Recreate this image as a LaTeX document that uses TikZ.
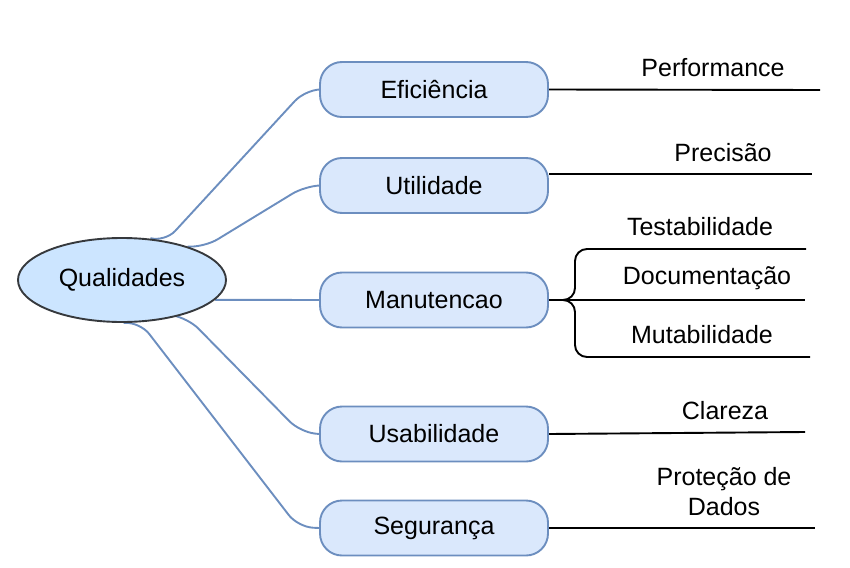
\documentclass[tikz,border=0pt]{standalone}
\usepackage{fontspec}
\setmainfont{Liberation Sans}
\usetikzlibrary{shapes.geometric,calc,backgrounds}
\definecolor{raizfill}{HTML}{CCE5FF}
\definecolor{raizline}{HTML}{36393D}
\definecolor{ramofill}{HTML}{DAE8FC}
\definecolor{ramoline}{HTML}{6C8EBF}
\tikzset{
  raiz/.style={ellipse,draw=raizline,fill=raizfill,line width=1.9pt,minimum width=208pt,minimum height=84pt,inner sep=0pt},
  ramo/.style={draw=ramoline,fill=ramofill,line width=1.9pt,rounded corners=22pt,minimum width=228pt,minimum height=55pt,inner sep=0pt},
  liga/.style={draw=ramoline,line width=1.9pt,rounded corners=15pt},
  folha/.style={draw=black,line width=1.9pt},
  rotulo/.style={align=center,inner sep=0pt}
}
\begin{document}
\begin{tikzpicture}[x=1pt,y=-1pt,font=\fontsize{25}{30}\selectfont]
\useasboundingbox (0,0) rectangle (850,567);
\node[raiz] (q) at (122,280) {Qualidades};
\foreach \nm/\y/\txt in {efi/89.5/Eficiência, uti/185.5/Utilidade, man/300/Manutencao, usa/434/Usabilidade, seg/528/Segurança} {
	\node[ramo] (\nm) at (434,\y) {\txt};
}
% folhas
\node[rotulo] (perf) at (713,68) {Performance};
\node[rotulo] (prec) at (723,153) {Precisão};
\node[rotulo] (test) at (700,227) {Testabilidade};
\node[rotulo] (doc) at (707,278) {Documentação};
\node[rotulo] (mut) at (702,335) {Mutabilidade};
\node[rotulo] (clar) at (725,411) {Clareza};
\node[rotulo] (prot) at (724,492) {Proteção de\\Dados};
\coordinate (perfE) at (820,90);
\coordinate (precE) at (812,174);
\coordinate (testE) at (806,249);
\coordinate (docE) at (805,300);
\coordinate (mutE) at (810,357);
\coordinate (clarE) at (805,432);
\coordinate (protE) at (815,528);
\begin{scope}[on background layer]
\draw[liga] (q.52) -- (165,242) -- (305,90) -- (efi.west);
\draw[liga] (q.27) -- (205,247) -- (305,186) -- (uti.west);
\draw[liga] (q.-12) -- (man.west);
\draw[liga] (q.-33) -- (188,318) -- (300,432) -- (usa.west);
\draw[liga] (q.-88) -- (140,322) -- (298,527) -- (seg.west);
\draw[folha] (efi.east) -- (perfE);
\draw[folha] (uti.east |- precE) -- (precE);
\draw[folha] (man.east) -- (docE);
\draw[folha,rounded corners=12pt] ($(man.east)+(14,0)$) -- (575,300) -- (575,249) -- (testE);
\draw[folha,rounded corners=12pt] ($(man.east)+(14,0)$) -- (575,300) -- (575,357) -- (mutE);
\draw[folha] (usa.east) -- (clarE);
\draw[folha] (seg.east) -- (protE);
\end{scope}
\end{tikzpicture}
\end{document}
